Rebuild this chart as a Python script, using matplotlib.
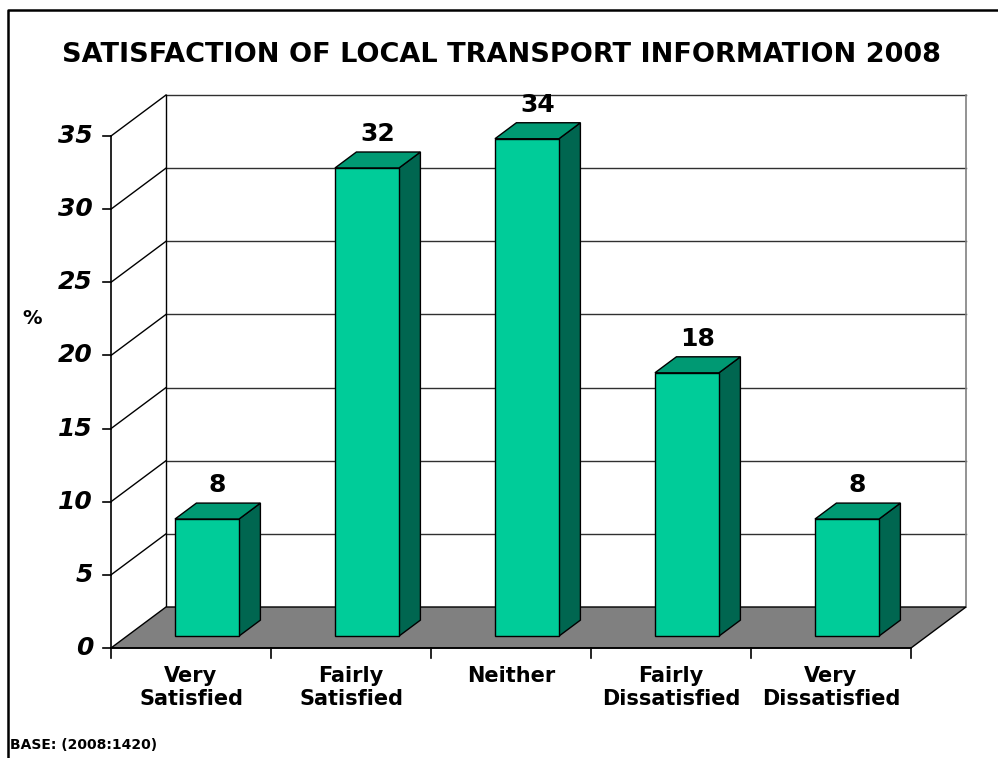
import matplotlib.pyplot as plt
from matplotlib.patches import Polygon
from matplotlib.lines import Line2D

# data
categories = ["Very\nSatisfied", "Fairly\nSatisfied", "Neither",
              "Fairly\nDissatisfied", "Very\nDissatisfied"]
values = [8, 32, 34, 18, 8]
yticks = [0, 5, 10, 15, 20, 25, 30, 35]

title = "SATISFACTION OF LOCAL TRANSPORT INFORMATION 2008"
base_note = "BASE: (2008:1420)"

# colours
FRONT = "#00CC99"
TOP = "#009973"
SIDE = "#006650"
FLOOR = "#808080"

W, H = 998, 758
fig = plt.figure(figsize=(W / 100, H / 100), dpi=100)
ax = fig.add_axes([0, 0, 1, 1])

# pixel geometry of the plot box -> data limits
px_per_cat = 160.0
px_per_val = (648 - 136) / 35.0
xmin = -0.5 - 111 / px_per_cat
ymin = -(H - 648) / px_per_val
ax.set_xlim(xmin, xmin + W / px_per_cat)
ax.set_ylim(ymin, ymin + H / px_per_val)
ax.axis("off")

DX = 55 / px_per_cat      # depth offset in x
DY = 41 / px_per_val      # depth offset in y
n = len(categories)
ymax = yticks[-1]
x0, x1 = -0.5, n - 0.5

# back wall
ax.add_patch(Polygon([(x0 + DX, DY), (x1 + DX, DY), (x1 + DX, ymax + DY),
                      (x0 + DX, ymax + DY)], closed=True, fc="white",
                     ec="none", zorder=1))
for v in yticks[1:]:
    ax.plot([x0 + DX, x1 + DX], [v + DY, v + DY], color="#303030", lw=1, zorder=2)
    ax.plot([x0, x0 + DX], [v, v + DY], color="black", lw=1, zorder=2)
ax.plot([x0 + DX, x0 + DX], [DY, ymax + DY], color="black", lw=1, zorder=2)
ax.plot([x1 + DX, x1 + DX], [DY, ymax + DY], color="#808080", lw=1.2, zorder=2)

# floor
ax.add_patch(Polygon([(x0, 0), (x1, 0), (x1 + DX, DY), (x0 + DX, DY)],
                     closed=True, fc=FLOOR, ec="black", lw=1, zorder=3))

# front axes
ax.plot([x0, x0], [0, ymax], color="black", lw=1.2, zorder=4)
ax.plot([x0, x1], [0, 0], color="black", lw=1.2, zorder=4)
tick_x = 8 / px_per_cat
tick_y = 10 / px_per_val
for v in yticks:
    ax.plot([x0 - tick_x, x0], [v, v], color="black", lw=1.2, zorder=4)
    ax.text(x0 - 18 / px_per_cat, v, str(v), ha="right", va="center",
            fontsize=18, fontweight="bold", fontstyle="italic", zorder=5)
for i in range(n + 1):
    ax.plot([x0 + i, x0 + i], [0, -tick_y], color="black", lw=1.2, zorder=4)

# bars
d0, d1 = 0.29, 0.68
hw = 0.2
for i, v in enumerate(values):
    xl, xr = i - hw, i + hw
    front = [(xl + d0 * DX, d0 * DY), (xr + d0 * DX, d0 * DY),
             (xr + d0 * DX, v + d0 * DY), (xl + d0 * DX, v + d0 * DY)]
    side = [(xr + d0 * DX, d0 * DY), (xr + d1 * DX, d1 * DY),
            (xr + d1 * DX, v + d1 * DY), (xr + d0 * DX, v + d0 * DY)]
    top = [(xl + d0 * DX, v + d0 * DY), (xr + d0 * DX, v + d0 * DY),
           (xr + d1 * DX, v + d1 * DY), (xl + d1 * DX, v + d1 * DY)]
    for poly, c in [(side, SIDE), (top, TOP), (front, FRONT)]:
        ax.add_patch(Polygon(poly, closed=True, fc=c, ec="black", lw=1,
                             joinstyle="miter", zorder=6))
    ax.text(i + (d0 + d1) / 2 * DX, v + d1 * DY + 0.4, str(v), ha="center",
            va="bottom", fontsize=18, fontweight="bold", zorder=7)
    ax.text(i, -18 / px_per_val, categories[i], ha="center", va="top",
            fontsize=15, fontweight="bold", linespacing=1.2, zorder=7)

# texts around
fig.text(501 / W, 1 - 55 / H, title, ha="center", va="center",
         fontsize=19.5, fontweight="bold")
fig.text(32 / W, 1 - 318 / H, "%", ha="center", va="center",
         fontsize=14, fontweight="bold")
fig.text(10 / W, 1 - 745 / H, base_note, ha="left", va="center",
         fontsize=10, fontweight="bold")

# frame on left and top
fig.add_artist(Line2D([8 / W, 8 / W, 1], [0, 1 - 10 / H, 1 - 10 / H],
                      transform=fig.transFigure, color="black", lw=1.8))

fig.savefig("out.png", dpi=100)
